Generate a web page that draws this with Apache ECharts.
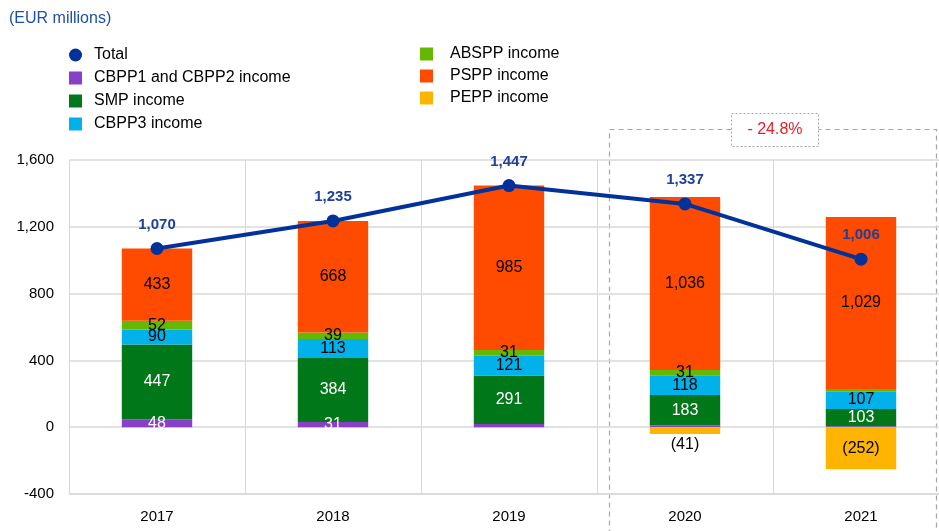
<!DOCTYPE html>
<html><head><meta charset="utf-8">
<script src="https://cdn.jsdelivr.net/npm/echarts@6/dist/echarts.min.js"></script>
<style>html,body{margin:0;padding:0;background:#fff}#c{width:939px;height:531px}</style>
</head><body><div id="c"></div>
<script>
const categories = ['2017','2018','2019','2020','2021'];
const cbpp12 = [48, 31, 19, 10, 6];
const smp = [447, 384, 291, 183, 103];
const cbpp3 = [90, 113, 121, 118, 107];
const abspp = [52, 39, 31, 31, 13];
const pspp = [433, 668, 985, 1036, 1029];
const pepp = [0, 0, 0, -41, -252];
const total = [1070, 1235, 1447, 1337, 1006];
const yTicks = [-400, 0, 400, 800, 1200, 1600];

const FONT = 'Liberation Sans, Arial, sans-serif';
const fmt = v => v < 0 ? '(' + Math.abs(v).toLocaleString('en-US') + ')' : v.toLocaleString('en-US');

function barData(arr, lblColor, negBelow) {
  return arr.map(v => {
    const show = Math.abs(v) >= 25;
    const item = { value: v === 0 ? null : v, label: { show: show, color: lblColor } };
    if (negBelow && v < 0 && Math.abs(v) < 100) {
      item.label.position = 'bottom';
      item.label.distance = 3;
      item.label.color = '#000';
    }
    return item;
  });
}
function bar(name, arr, color, lblColor, negBelow) {
  return {
    name: name, type: 'bar', stack: 'a', barWidth: '40%',
    itemStyle: { color: color },
    label: { show: true, position: 'inside', fontSize: 16, fontFamily: FONT, formatter: p => fmt(p.value) },
    data: barData(arr, lblColor, negBelow),
    z: 2
  };
}

const chart = echarts.init(document.getElementById('c'));
chart.setOption({
  animation: false,
  textStyle: { fontFamily: FONT },
  grid: { left: 69, width: 880, top: 160, bottom: 37, outerBoundsMode: 'none', containLabel: false },
  legend: [
    { orient: 'vertical', left: 64, top: 42, itemWidth: 13, itemHeight: 13, itemGap: 7,
      textStyle: { fontSize: 16, lineHeight: 16, color: '#000', fontFamily: FONT, padding: [0, 0, 0, 7] },
      data: [{ name: 'Total', icon: 'circle' }, { name: 'CBPP1 and CBPP2 income', icon: 'rect' },
             { name: 'SMP income', icon: 'rect' }, { name: 'CBPP3 income', icon: 'rect' }] },
    { orient: 'vertical', left: 415, top: 41, itemWidth: 13, itemHeight: 13, itemGap: 6,
      textStyle: { fontSize: 16, lineHeight: 16, color: '#000', fontFamily: FONT, padding: [0, 0, 0, 12] },
      data: [{ name: 'ABSPP income', icon: 'rect' }, { name: 'PSPP income', icon: 'rect' },
             { name: 'PEPP income', icon: 'rect' }] }
  ],
  xAxis: {
    type: 'category', data: categories,
    axisLine: { show: true, onZero: false, lineStyle: { color: '#d9d9d9', width: 1.5 } },
    axisTick: { show: false },
    splitLine: { show: true, lineStyle: { color: '#d9d9d9' } },
    axisLabel: { fontSize: 15, color: '#000', margin: 15, fontFamily: FONT }
  },
  yAxis: {
    type: 'value', min: yTicks[0], max: yTicks[yTicks.length - 1], interval: 400,
    axisLine: { show: false }, axisTick: { show: false },
    splitLine: { lineStyle: { color: '#d9d9d9', width: 1.5 } },
    axisLabel: { fontSize: 15, color: '#000', margin: 15, fontFamily: FONT,
      formatter: v => v.toLocaleString('en-US') }
  },
  series: [
    bar('CBPP1 and CBPP2 income', cbpp12, '#8a3fc9', '#fff'),
    bar('SMP income', smp, '#00781a', '#fff'),
    bar('CBPP3 income', cbpp3, '#00b1ea', '#000'),
    bar('ABSPP income', abspp, '#65b800', '#000'),
    bar('PSPP income', pspp, '#ff4b00', '#000'),
    bar('PEPP income', pepp, '#ffb400', '#000', true),
    {
      name: 'Total', type: 'line', data: total, z: 5,
      lineStyle: { color: '#003299', width: 4 },
      itemStyle: { color: '#003299' },
      symbol: 'circle', symbolSize: 13,
      label: { show: true, position: 'top', distance: 10, color: '#1f3f9c', fontWeight: 'bold',
               fontSize: 15, fontFamily: FONT, formatter: p => fmt(p.value) }
    }
  ],
  graphic: [
    { type: 'text', left: 9, top: 11, style: { text: '(EUR millions)', fill: '#1f4fa8', fontSize: 16, fontFamily: FONT } },
    { type: 'rect', shape: { x: 609.5, y: 129.5, width: 327, height: 420 }, z: 0,
      style: { fill: 'none', stroke: '#a6a6a6', lineWidth: 1.2, lineDash: [5, 4] } },
    { type: 'rect', shape: { x: 731.5, y: 113.5, width: 87, height: 33 }, z: 10,
      style: { fill: '#fff', stroke: '#a6a6a6', lineWidth: 1, lineDash: [2, 2] } },
    { type: 'text', x: 775, y: 130, z: 11,
      style: { text: '- 24.8%', fill: '#e8202a', fontSize: 16, fontFamily: FONT, align: 'center', verticalAlign: 'middle' } }
  ]
});
</script></body></html>
